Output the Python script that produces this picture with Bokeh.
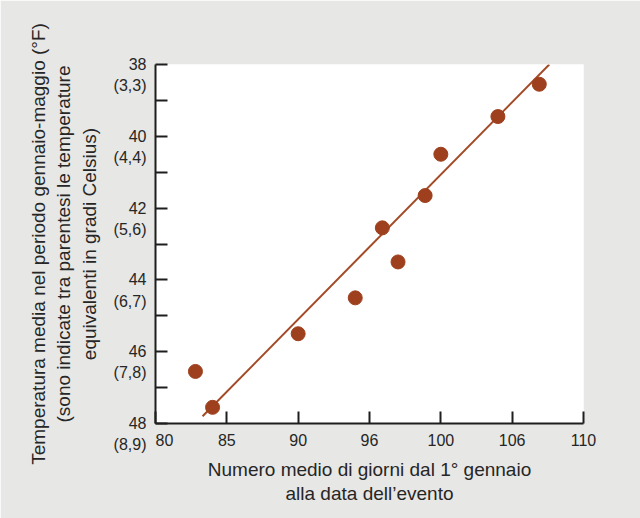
from bokeh.plotting import figure
from bokeh.models import Range1d, FixedTicker
from bokeh.embed import file_html
from bokeh.resources import INLINE

# Data
days = [82.8, 84.0, 90.0, 94.0, 97.0, 95.9, 98.9, 100.0, 104.0, 106.9]
temps_f = [46.55, 47.55, 45.5, 44.5, 43.5, 42.55, 41.65, 40.5, 39.45, 38.55]
fit_days = [83.3, 107.6]
fit_temps = [47.8, 38.0]

x_ticks = [80, 85, 90, 95, 100, 105, 110]
x_tick_labels = ["\u00a0\u00a0\u00a0\u00a080", "85", "90", "96", "100", "106", "110"]
y_ticks = [38, 40, 42, 44, 46, 48]
y_minor = [39, 41, 43, 45, 47]
y_f_labels = ["38", "40", "42", "44", "46", "48"]
y_c_labels = ["(3,3)", "(4,4)", "(5,6)", "(6,7)", "(7,8)", "(8,9)"]

FONT = "Liberation Sans"
TXT = "#262626"
BROWN = "#9e401d"

p = figure(width=640, height=518, output_backend="svg", toolbar_location=None,
           x_range=Range1d(80, 110), y_range=Range1d(48, 38))
p.min_border_left = 155
p.min_border_right = 57
p.min_border_top = 64
p.min_border_bottom = 95
p.border_fill_color = "#e7e7e5"
p.background_fill_color = "#ffffff"
p.outline_line_color = None
p.xgrid.visible = False
p.ygrid.visible = False

p.line(fit_days, fit_temps, line_color="#a34a26", line_width=2)
p.scatter(days, temps_f, size=14, fill_color=BROWN, line_color=BROWN)

xa = p.xaxis[0]
xa.ticker = FixedTicker(ticks=x_ticks, minor_ticks=[])
xa.major_label_overrides = {t: l for t, l in zip(x_ticks, x_tick_labels)}
xa.major_tick_in = 12
xa.major_tick_out = 0
xa.minor_tick_line_color = None
xa.axis_line_width = 2
xa.axis_line_color = "#1e1e1e"
xa.major_tick_line_width = 2
xa.major_tick_line_color = "#1e1e1e"
xa.major_label_text_font = FONT
xa.major_label_text_font_size = "16px"
xa.major_label_text_color = TXT
xa.major_label_standoff = 8
xa.axis_label = "Numero medio di giorni dal 1° gennaio\nalla data dell\u2019evento"
xa.axis_label_text_font = FONT
xa.axis_label_text_font_size = "19px"
xa.axis_label_text_font_style = "normal"
xa.axis_label_text_color = TXT
xa.axis_label_text_line_height = 1.15
xa.axis_label_standoff = 7

ya = p.yaxis[0]
ya.ticker = FixedTicker(ticks=y_ticks, minor_ticks=y_minor)
ya.major_label_overrides = {t: "\n" + f + "\n" + c for t, f, c in zip(y_ticks, y_f_labels, y_c_labels)}
ya.major_tick_in = 12
ya.major_tick_out = 0
ya.minor_tick_in = 12
ya.minor_tick_out = 0
ya.axis_line_width = 2
ya.axis_line_color = "#1e1e1e"
ya.major_tick_line_width = 2
ya.major_tick_line_color = "#1e1e1e"
ya.minor_tick_line_width = 2
ya.minor_tick_line_color = "#1e1e1e"
ya.major_label_text_font = FONT
ya.major_label_text_font_size = "16px"
ya.major_label_text_color = TXT
ya.major_label_text_line_height = 1.25
ya.major_label_standoff = 9
ya.axis_label = ("Temperatura media nel periodo gennaio-maggio (°F)\n"
                 "(sono indicate tra parentesi le temperature\n"
                 "equivalenti in gradi Celsius)")
ya.axis_label_text_font = FONT
ya.axis_label_text_font_size = "19px"
ya.axis_label_text_font_style = "normal"
ya.axis_label_text_color = TXT
ya.axis_label_text_line_height = 1.2
ya.axis_label_standoff = 11

open("out.html", "w").write(file_html(p, INLINE))
